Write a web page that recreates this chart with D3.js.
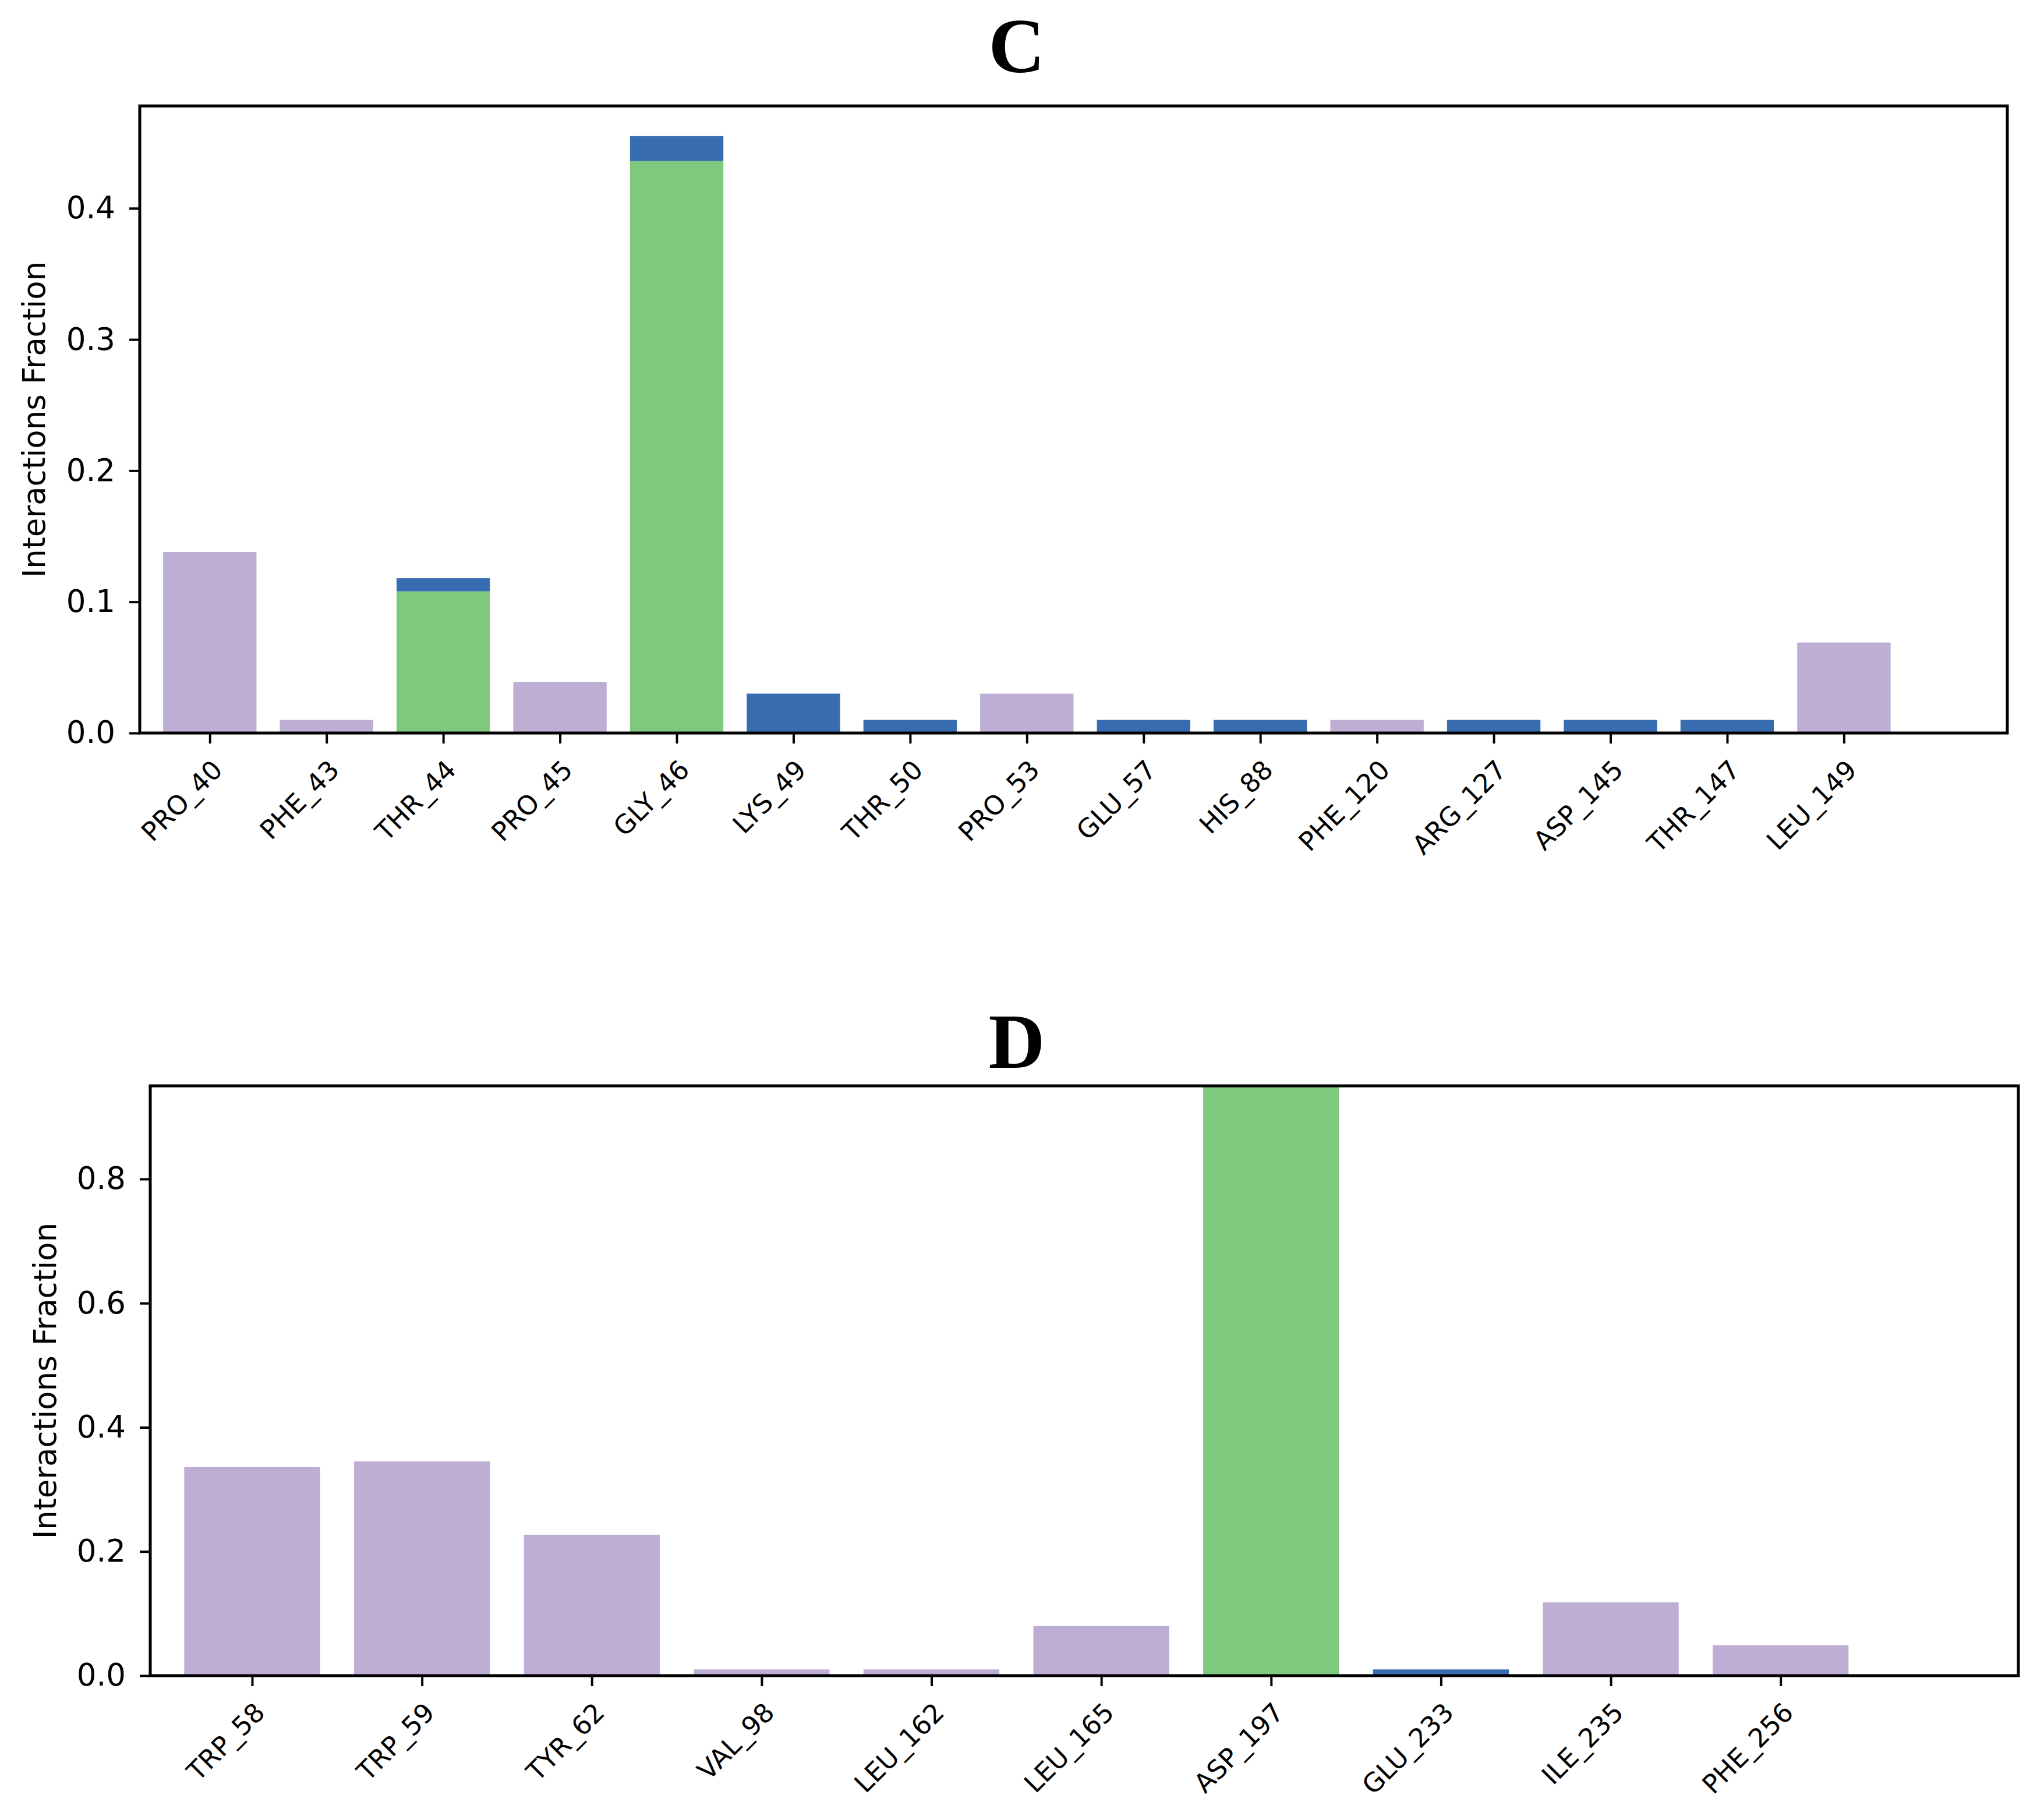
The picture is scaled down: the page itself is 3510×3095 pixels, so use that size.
<!DOCTYPE html>
<html>
<head>
<meta charset="utf-8">
<script src="https://cdn.jsdelivr.net/npm/d3@7"></script>
<style>
  body { margin: 0; background: #fff; }
  svg { display: block; background: #fff; }
</style>
</head>
<body>
<svg id="chart"></svg>
<script>
// panel C
const cResidues = ['PRO_40', 'PHE_43', 'THR_44', 'PRO_45', 'GLY_46', 'LYS_49', 'THR_50', 'PRO_53',
  'GLU_57', 'HIS_88', 'PHE_120', 'ARG_127', 'ASP_145', 'THR_147', 'LEU_149'];
const cHbond       = [0,     0,    0.108, 0,     0.436, 0,    0,    0,    0,    0,    0,    0,    0,    0,    0];
const cHydrophobic = [0.138, 0.01, 0,     0.039, 0,     0,    0,    0.03, 0,    0,    0.01, 0,    0,    0,    0.069];
const cWater       = [0,     0,    0.01,  0,     0.019, 0.03, 0.01, 0,    0.01, 0.01, 0,    0.01, 0.01, 0.01, 0];
const cTicks = [0, 0.1, 0.2, 0.3, 0.4];

// panel D
const dResidues = ['TRP_58', 'TRP_59', 'TYR_62', 'VAL_98', 'LEU_162', 'LEU_165', 'ASP_197',
  'GLU_233', 'ILE_235', 'PHE_256'];
const dHbond       = [0,     0,     0,     0,    0,    0,    0.95, 0,    0,     0];
const dHydrophobic = [0.336, 0.345, 0.227, 0.01, 0.01, 0.08, 0,    0,    0.118, 0.049];
const dWater       = [0,     0,     0,     0,    0,    0,    0,    0.01, 0,     0];
const dTicks = [0, 0.2, 0.4, 0.6, 0.8];

const keys = ['hbond', 'hydrophobic', 'water'];
const colors = { hbond: '#7fc97f', hydrophobic: '#beaed4', water: '#386cb0' };

const width = 3510;
const height = 3095;
const svg = d3.select('#chart').attr('width', width).attr('height', height);

function drawPanel(opts) {
  const { title, titleY, residues, hbond, hydrophobic, water, ticks, yMax,
    left, right, top, bottom, labelX } = opts;

  const rows = residues.map((r, i) => ({
    name: r, i, hbond: hbond[i], hydrophobic: hydrophobic[i], water: water[i]
  }));

  const x = d3.scaleLinear()
    .domain([-0.6, residues.length + 0.4])
    .range([left, right]);
  const y = d3.scaleLinear()
    .domain([0, yMax])
    .range([bottom, top]);

  const g = svg.append('g');

  // stacked bars
  const series = d3.stack().keys(keys)(rows);
  const clip = 'clip-' + title;
  svg.append('clipPath').attr('id', clip)
    .append('rect').attr('x', left).attr('y', top)
    .attr('width', right - left).attr('height', bottom - top);

  g.append('g').attr('clip-path', `url(#${clip})`)
    .selectAll('g')
    .data(series)
    .join('g')
    .attr('fill', d => colors[d.key])
    .selectAll('rect')
    .data(d => d.filter(s => s[1] - s[0] > 0))
    .join('rect')
    .attr('x', d => x(d.data.i - 0.4))
    .attr('width', d => x(0.8) - x(0))
    .attr('y', d => y(d[1]))
    .attr('height', d => y(d[0]) - y(d[1]));

  // y axis
  const yAxis = g.append('g')
    .attr('transform', `translate(${left},0)`)
    .call(d3.axisLeft(y).tickValues(ticks).tickFormat(d3.format('.1f')).tickSize(18).tickPadding(24));
  yAxis.select('.domain').remove();
  yAxis.selectAll('line').attr('stroke', '#000').attr('stroke-width', 4);
  yAxis.selectAll('text')
    .attr('font-family', 'DejaVu Sans')
    .attr('font-size', 53)
    .attr('fill', '#000');

  // x axis
  const xAxis = g.append('g')
    .attr('transform', `translate(0,${bottom})`)
    .call(d3.axisBottom(x).tickValues(d3.range(residues.length)).tickFormat(i => residues[i]).tickSize(18));
  xAxis.select('.domain').remove();
  xAxis.selectAll('line').attr('stroke', '#000').attr('stroke-width', 4);
  xAxis.selectAll('text')
    .attr('font-family', 'DejaVu Sans')
    .attr('font-size', 45)
    .attr('fill', '#000')
    .attr('text-anchor', 'end')
    .attr('dy', null)
    .attr('y', null)
    .attr('transform', 'translate(24,66) rotate(-45)');

  // frame
  g.append('rect')
    .attr('x', left).attr('y', top)
    .attr('width', right - left).attr('height', bottom - top)
    .attr('fill', 'none').attr('stroke', '#000').attr('stroke-width', 5);

  // y label
  g.append('text')
    .attr('transform', `translate(${labelX},${(top + bottom) / 2}) rotate(-90)`)
    .attr('text-anchor', 'middle')
    .attr('font-family', 'DejaVu Sans')
    .attr('font-size', 53)
    .text('Interactions Fraction');

  // title
  svg.append('text')
    .attr('x', 1746).attr('y', titleY)
    .attr('text-anchor', 'middle')
    .attr('font-family', 'Liberation Serif')
    .attr('font-weight', 'bold')
    .attr('font-size', 134)
    .text(title);
}

drawPanel({
  title: 'C', titleY: 124,
  residues: cResidues, hbond: cHbond, hydrophobic: cHydrophobic, water: cWater,
  ticks: cTicks, yMax: 0.478,
  left: 240, right: 3447, top: 182, bottom: 1259, labelX: 77
});

drawPanel({
  title: 'D', titleY: 1834,
  residues: dResidues, hbond: dHbond, hydrophobic: dHydrophobic, water: dWater,
  ticks: dTicks, yMax: 0.95,
  left: 258, right: 3466, top: 1865, bottom: 2878, labelX: 96
});
</script>
</body>
</html>
